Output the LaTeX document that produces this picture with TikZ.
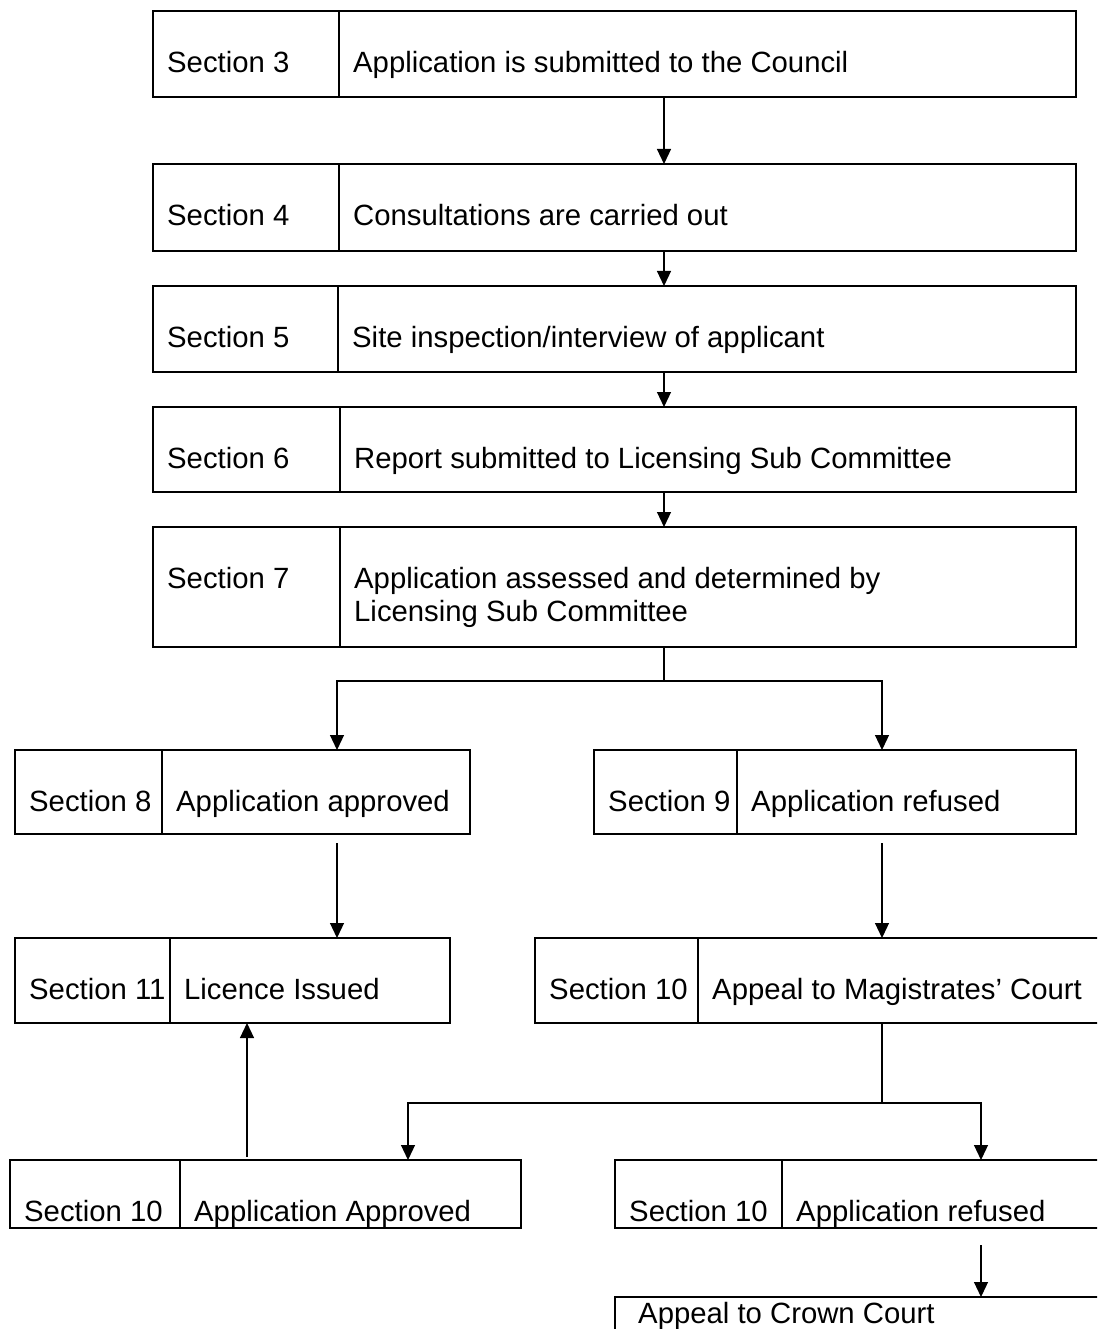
\documentclass[tikz,border=0pt]{standalone}
\usepackage{fontspec}
\setmainfont{Liberation Sans}
\usetikzlibrary{arrows.meta}
\newcommand*\mycell[6]{%
    \node[cell,minimum width=#4pt,minimum height=#5pt] (#1) at (#2,#3) {};
    \node[txt] (#1-t) at ([xshift=14pt,yshift=-61.5pt]#1.north west) {#6};
}
\begin{document}
\begin{tikzpicture}[x=1pt,y=-1pt,
    cell/.style={draw,line width=1.5pt,anchor=north west,inner sep=0pt,outer sep=0pt},
    txt/.style={anchor=base west,inner sep=0pt,font=\fontsize{29.3}{33}\selectfont},
    conn/.style={line width=1.2pt},
    arr/.style={conn,-{Triangle[width=14pt,length=15pt]}}]
\clip (0,0) rectangle (1097,1329);
\fill[white] (0,0) rectangle (1097,1329);

\mycell{s3}{153}{11}{186}{86}{Section 3}
\mycell{a3}{339}{11}{737}{86}{Application is submitted to the Council}
\mycell{s4}{153}{164}{186}{87}{Section 4}
\mycell{a4}{339}{164}{737}{87}{Consultations are carried out}
\mycell{s5}{153}{286}{185}{86}{Section 5}
\mycell{a5}{338}{286}{738}{86}{Site inspection/interview of applicant}
\mycell{s6}{153}{407}{187}{85}{Section 6}
\mycell{a6}{340}{407}{736}{85}{Report submitted to Licensing Sub Committee}
\mycell{s7}{153}{527}{187}{120}{Section 7}
\mycell{a7}{340}{527}{736}{120}{\begin{tabular}[t]{@{}l@{}}Application assessed and determined by\\Licensing Sub Committee\end{tabular}}

\mycell{s8}{15}{750}{147}{84}{Section 8}
\mycell{a8}{162}{750}{308}{84}{Application approved}
\mycell{s9}{594}{750}{143}{84}{Section 9}
\mycell{a9}{737}{750}{339}{84}{Application refused}
\mycell{s11}{15}{938}{155}{85}{Section 11}
\mycell{a11}{170}{938}{280}{85}{Licence Issued}
\mycell{s10m}{535}{938}{163}{85}{Section 10}
\mycell{a10m}{698}{938}{420}{85}{Appeal to Magistrates’ Court}
\mycell{s10a}{10}{1160}{170}{68}{Section 10}
\mycell{a10a}{180}{1160}{341}{68}{Application Approved}
\mycell{s10r}{615}{1160}{167}{68}{Section 10}
\mycell{a10r}{782}{1160}{340}{68}{Application refused}

\node[cell,minimum width=520pt,minimum height=80pt] (cc) at (615,1297) {};
\node[txt] (cc-t) at ([xshift=23pt,yshift=-26pt]cc.north west) {Appeal to Crown Court};

\coordinate (spine) at (664,0);
\coordinate (l1) at (337,681);
\coordinate (r1) at (882,681);
\coordinate (up1) at (247,0);
\coordinate (l2) at (408,1103);
\coordinate (r2) at (981,1103);

\draw[arr] (a3.south -| spine) -- (a4.north -| spine);
\draw[arr] (a4.south -| spine) -- (a5.north -| spine);
\draw[arr] (a5.south -| spine) -- (a6.north -| spine);
\draw[arr] (a6.south -| spine) -- (a7.north -| spine);
\draw[arr] (a7.south -| spine) |- (l1) -- (l1 |- a8.north);
\draw[arr] (a7.south -| spine) |- (r1) -- (r1 |- a9.north);

\draw[arr] ([yshift=-9pt]a8.south -| l1) -- (a11.north -| l1);
\draw[arr] ([yshift=-9pt]a9.south -| r1) -- (a10m.north -| r1);
\draw[arr] ([yshift=3pt]a10a.north -| up1) -- (a11.south -| up1);

\draw[arr] (a10m.south -| r1) |- (l2) -- (l2 |- a10a.north);
\draw[arr] (a10m.south -| r1) |- (r2) -- (r2 |- a10r.north);
\draw[arr] ([yshift=-17pt]a10r.south -| r2) -- (cc.north -| r2);
\end{tikzpicture}
\end{document}
